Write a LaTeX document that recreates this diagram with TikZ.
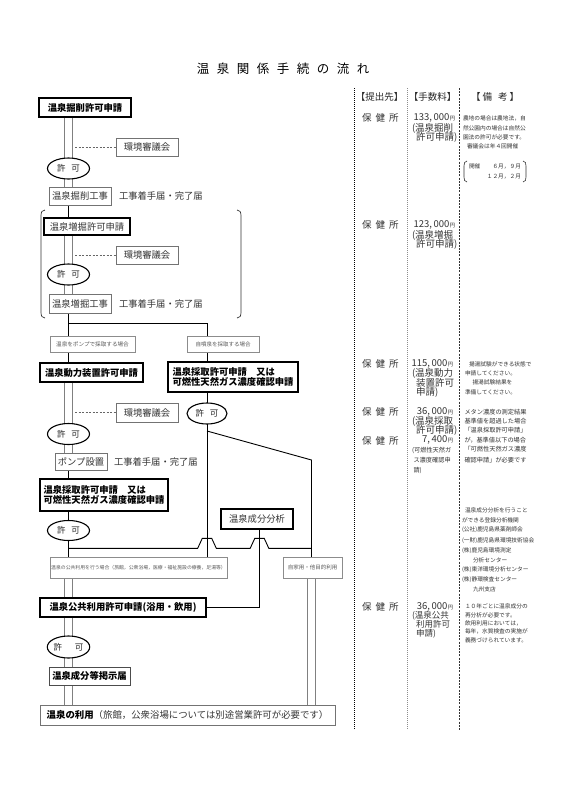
\documentclass[tikz,border=0pt]{standalone}
\usepackage{fontspec}
\setmainfont{Noto Sans CJK JP}
\usetikzlibrary{shapes.geometric,calc}
\pgfdeclarelayer{bg}
\pgfsetlayers{bg,main}
\newcommand{\jfs}[1]{\fontsize{#1}{#1}\selectfont}
\newcommand{\myen}{{\jfs{5.5}円}}
\newcommand{\kgap}{\hspace{4pt}}
\begin{document}
\begin{tikzpicture}[x=1pt,y=-1pt,
  every node/.style={inner sep=0pt, outer sep=0pt},
  gfont/.style={font=\jfs{9.3}\bfseries, text=black},
  mfont/.style={font=\jfs{9.3}, text=black!80},
  thickbox/.style={draw=black, line width=1.3pt, fill=white, minimum height=19pt},
  thinbox/.style={draw=black!55, line width=0.7pt, fill=white, minimum height=18pt},
  casebox/.style={draw=black!45, line width=0.6pt, fill=white, minimum height=16pt, text=black!65},
  permit/.style={ellipse, draw=black, line width=1.1pt, fill=white, minimum width=42pt, minimum height=21pt, font=\jfs{8.5}, text=black!85},
  dbl/.style={draw=black!50, line width=0.7pt, double=white, double distance=7.8pt},
  conn/.style={draw=black, line width=0.9pt},
  dashlink/.style={draw=black!60, line width=0.6pt, dash pattern=on 2pt off 1.5pt},
  head/.style={font=\jfs{9.5}, text=black!85},
  fee/.style={font=\jfs{9.5}, text=black!80},
  feemid/.style={font=\jfs{8.5}, text=black!80, anchor=west},
  feesm/.style={font=\jfs{6.2}, text=black!80, anchor=west},
  rem/.style={font=\jfs{5.7}, text=black!80, anchor=west},
  remb/.style={font=\jfs{6.2}, text=black!80, anchor=west}
]
\begin{pgfonlayer}{bg}
\fill[white] (0,0) rectangle (566,800);
\end{pgfonlayer}
\useasboundingbox (0,0) rectangle (566,800);

% spine coordinates
\coordinate (lx) at (68.5,0);
\coordinate (rx) at (207,0);
\coordinate (sx) at (259.5,0);
\coordinate (ux) at (311.5,0);
\coordinate (dx) at (75,0);
\coordinate (hy) at (0,548.3);
\coordinate (sy) at (0,323);
\coordinate (d0) at (207,431);
\coordinate (d1) at (311.5,460);

% title
\node[font=\jfs{12.5}] (title) at (283,68.3) {温\hspace{7.5pt}泉\hspace{7.5pt}関\hspace{7.5pt}係\hspace{7.5pt}手\hspace{7.5pt}続\hspace{7.5pt}の\hspace{7.5pt}流\hspace{7.5pt}れ};

% section 1
\node[thickbox, minimum width=92pt, gfont] (b1) at (85,107.5) {温泉掘削許可申請};
\node[thinbox, minimum width=62pt, mfont] (k1) at (147,147) {環境審議会};
\node[permit] (e1) at (68.5,168.5) {許\hspace{6pt}可};
\node[thinbox, minimum width=62pt, mfont] (w1) at (80,196) {温泉掘削工事};
\node[mfont, anchor=west] (n1) at (119,196) {工事着手届・完了届};

% section 2
\node[thickbox, minimum width=86pt, minimum height=17pt, mfont] (b2) at (87,226.5) {温泉増掘許可申請};
\node[thinbox, minimum width=62pt, mfont] (k2) at (147,255) {環境審議会};
\node[permit] (e2) at (68.5,274.5) {許\hspace{6pt}可};
\node[thinbox, minimum width=62pt, minimum height=19pt, mfont] (w2) at (80,303.5) {温泉増掘工事};
\node[mfont, anchor=west] (n2) at (119,304) {工事着手届・完了届};

% cases
\node[casebox, minimum width=85pt, font=\jfs{5.6}] (c1) at (92.5,344) {温泉をポンプで採取する場合};
\node[casebox, minimum width=72pt, font=\jfs{5.5}] (c2) at (223,344) {自噴泉を採取する場合};

% section 3
\node[thickbox, minimum width=103pt, gfont] (b3) at (91.5,372.5) {温泉動力装置許可申請};
\node[thickbox, minimum width=130pt, minimum height=30pt, align=left, font=\fontsize{9.3}{10.3}\selectfont\bfseries] (b4) at (233,377) {温泉採取許可申請　又は\\可燃性天然ガス濃度確認申請};
\node[thinbox, minimum width=62pt, minimum height=19pt, mfont] (k3) at (147,412.5) {環境審議会};
\node[permit, minimum width=40pt] (e4) at (207,413.5) {許\hspace{6pt}可};
\node[permit] (e3) at (68.5,434) {許\hspace{6pt}可};
\node[thinbox, minimum width=52pt, minimum height=17pt, mfont] (p) at (81,461.5) {ポンプ設置};
\node[mfont, anchor=west] (n3) at (114,461.5) {工事着手届・完了届};

% section 4
\node[thickbox, minimum width=128pt, minimum height=32pt, align=left, font=\fontsize{9.3}{10.3}\selectfont\bfseries] (b5) at (104,495) {温泉採取許可申請　又は\\可燃性天然ガス濃度確認申請};
\node[permit, minimum height=20pt] (e5) at (68.5,530.5) {許\hspace{6pt}可};
\node[draw=black, line width=1.1pt, fill=white, minimum width=72pt, minimum height=20pt, mfont] (s) at (257,519) {温泉成分分析};
\node[casebox, minimum width=177pt, minimum height=21pt, font=\jfs{4.85}] (c3) at (138.5,567.5) {温泉の公共利用を行う場合（旅館，公衆浴場，医療・福祉施設の療養，足湯等）};
\node[casebox, minimum width=59pt, minimum height=21pt, font=\jfs{5.5}] (c4) at (312.5,567.5) {自家用・他目的利用};

% section 5
\node[thickbox, minimum width=166pt, gfont] (b6) at (123,607.5) {温泉公共利用許可申請(浴用・飲用)};
\node[permit, minimum height=22pt] (e6) at (68.5,647) {許\hspace{13pt}可};
\node[draw=black!70, line width=0.8pt, fill=white, minimum width=81pt, minimum height=18pt, gfont] (b7) at (89.5,676) {温泉成分等掲示届};
\node[draw=black!55, line width=0.7pt, fill=white, minimum width=295pt, minimum height=20pt, font=\jfs{9.4}] (b8) at (187.5,715) {{\bfseries 温泉の利用}\textcolor{black!80}{（旅館，公衆浴場については別途営業許可が必要です）}};

% connectors
\begin{pgfonlayer}{bg}
\draw[dbl] (lx |- b1.south) -- (lx |- w1.north);
\draw[dashlink] (dx |- k1.west) -- (k1.west);
\draw[conn] (lx |- w1.south) -- (lx |- b2.north);
\draw[dbl] (lx |- b2.south) -- (lx |- w2.north);
\draw[dashlink] (dx |- k2.west) -- (k2.west);
\draw[conn] (lx |- w2.south) -- (lx |- sy) -- (rx |- sy) -- (rx |- c2.north);
\draw[conn] (lx |- sy) -- (lx |- c1.north);
\draw[conn] (lx |- c1.south) -- (lx |- b3.north);
\draw[conn] (rx |- c2.south) -- (rx |- b4.north);
\draw[dbl] (lx |- b3.south) -- (lx |- p.north);
\draw[dashlink] (dx |- k3.west) -- (k3.west);
\draw[conn] (rx |- b4.south) -- (e4.north);
\draw[conn] (e4.south) -- (rx |- c3.north);
\draw[conn] (d0) -- (d1) -- (d1 |- c4.north);
\draw[conn] (lx |- p.south) -- (lx |- b5.north);
\draw[conn] (lx |- b5.south) -- (e5.north);
\draw[conn] (e5.south) -- (lx |- c3.north);
\draw[conn] (lx |- hy) -- ($(rx |- hy)+(-9.3,0)$) -- ++(4.6,-10) -- ++(9.4,0) -- ++(4.6,10)
   -- ($(sx |- hy)+(-9.3,0)$) -- ++(4.6,-10) -- ++(9.4,0) -- ++(4.6,10) -- (ux |- hy);
\draw[conn] (sx |- s.south) -- (sx |- b6.east) -- (b6.east);
\draw[dbl] (lx |- c3.south) -- (lx |- b6.north);
\draw[dbl] (lx |- b6.south) -- (lx |- b7.north);
\draw[dbl] (lx |- b7.south) -- (lx |- b8.north);
\draw[dbl] (ux |- c4.south) -- (ux |- b8.north);
\end{pgfonlayer}

% bracket around section 2
\draw[black!80, line width=0.7pt] (45,210) .. controls (42,210) and (41,212) .. (41,216) -- (41,312) .. controls (41,316) and (42,318) .. (45,318);
\draw[black!80, line width=0.7pt] (237,210) .. controls (240,210) and (241,212) .. (241,216) -- (241,312) .. controls (241,316) and (240,318) .. (237,318);

% right columns
\draw[black, line width=0.9pt, dash pattern=on 1pt off 1pt] (354,88) -- (354,730);
\draw[black!45, line width=0.9pt, dash pattern=on 1pt off 1pt] (407.5,88) -- (407.5,730);
\draw[black!80, line width=0.8pt, dash pattern=on 2pt off 1.2pt] (459.5,88) -- (459.5,730);

\node[head] (h1) at (379.5,97) {【提出先】};
\node[head] (h2) at (432.5,97) {【手数料】};
\node[head] (h3) at (495,97) {【\hspace{2pt}備\hspace{6pt}考\hspace{2pt}】};

% submit-to
\node[fee, anchor=west] (g1) at (362,118.3) {保\kgap 健\kgap 所};
\node[fee, anchor=west] (g2) at (362,225) {保\kgap 健\kgap 所};
\node[fee, anchor=west] (g3) at (362,364) {保\kgap 健\kgap 所};
\node[fee, anchor=west] (g4) at (362,411.7) {保\kgap 健\kgap 所};
\node[fee, anchor=west] (g5) at (362,440.5) {保\kgap 健\kgap 所};
\node[fee, anchor=west] (g6) at (362,606.7) {保\kgap 健\kgap 所};

% fees
\node[fee, anchor=east] (f1) at (455,118.3) {133,\,000\myen};
\node[fee, anchor=west] (f1a) at (412,128.3) {(温泉掘削};
\node[fee, anchor=west] (f1b) at (416,137.9) {許可申請)};
\node[fee, anchor=east] (f2) at (455,225) {123,\,000\myen};
\node[fee, anchor=west] (f2a) at (412,235) {(温泉増掘};
\node[fee, anchor=west] (f2b) at (416,244.5) {許可申請)};
\node[fee, anchor=east] (f3) at (453,364) {115,\,000\myen};
\node[fee, anchor=west] (f3a) at (412,373.5) {(温泉動力};
\node[fee, anchor=west] (f3b) at (416,383) {装置許可};
\node[fee, anchor=west] (f3c) at (416,392.5) {申請)};
\node[fee, anchor=east] (f4) at (453,411.7) {36,\,000\myen};
\node[fee, anchor=west] (f4a) at (412,421.2) {(温泉採取};
\node[fee, anchor=west] (f4b) at (416,430.7) {許可申請)};
\node[fee, anchor=east] (f5) at (453,440.3) {7,\,400\myen};
\node[feesm] (f5a) at (412,450) {(可燃性天然ガ};
\node[feesm] (f5b) at (413.5,460) {ス濃度確認申};
\node[feesm] (f5c) at (413.5,470) {請)};
\node[fee, anchor=east] (f6) at (453,606.7) {36,\,000\myen};
\node[feemid] (f6a) at (412,615.8) {(温泉公共};
\node[feemid] (f6b) at (416,624.6) {利用許可};
\node[feemid] (f6c) at (416,633.4) {申請)};

% remarks
\node[rem] (r1a) at (463,118.3) {農地の場合は農地法，自};
\node[rem] (r1b) at (463,128.3) {然公園内の場合は自然公};
\node[rem] (r1c) at (463,137.7) {園法の許可が必要です。};
\node[rem] (r1d) at (467,146.7) {審議会は年４回開催};
\node[rem] (r1e) at (469,166.7) {開催};
\node[rem, anchor=east] (r1f) at (521,166.7) {６月，９月};
\node[rem, anchor=east] (r1g) at (521,176.7) {１２月，２月};
\draw[black!80, line width=0.6pt] (467,161) .. controls (464.5,161.5) and (464,163) .. (464,166) -- (464,177) .. controls (464,180) and (464.5,181.5) .. (467,182);
\draw[black!80, line width=0.6pt] (523,161) .. controls (525.5,161.5) and (526,163) .. (526,166) -- (526,177) .. controls (526,180) and (525.5,181.5) .. (523,182);

\node[rem] (r3a) at (469,364) {揚湯試験ができる状態で};
\node[rem] (r3b) at (465,373.3) {申請してください。};
\node[rem] (r3c) at (472.5,382.7) {揚湯試験結果を};
\node[rem] (r3d) at (465,392.7) {準備してください。};

\node[remb] (r4a) at (464.5,411.7) {メタン濃度の測定結果};
\node[remb] (r4b) at (464.5,420.7) {基準値を超過した場合};
\node[remb] (r4c) at (464.5,430) {「温泉採取許可申請」};
\node[remb] (r4d) at (464.5,440) {が，基準値以下の場合};
\node[remb] (r4e) at (464.5,449.3) {「可燃性天然ガス濃度};
\node[remb] (r4f) at (464.5,459.7) {確認申請」が必要です};

\node[rem] (r6a) at (465,510.7) {温泉成分分析を行うこと};
\node[rem] (r6b) at (462,520) {ができる登録分析機関};
\node[rem] (r6c) at (462,529.3) {(公社)鹿児島県薬剤師会};
\node[rem] (r6d) at (462,540.7) {(一財)鹿児島県環境技術協会};
\node[rem] (r6e) at (462,550.7) {(株)鹿児島環境測定};
\node[rem] (r6f) at (473,560) {分析センター};
\node[rem] (r6g) at (462,570) {(株)東洋環境分析センター};
\node[rem] (r6h) at (462,579.3) {(株)静環検査センター};
\node[rem] (r6i) at (473,589.3) {九州支店};

\node[rem] (r7a) at (465,606.7) {１０年ごとに温泉成分の};
\node[rem] (r7b) at (465,615) {再分析が必要です。};
\node[rem] (r7c) at (465,623.3) {飲用利用においては，};
\node[rem] (r7d) at (465,631.7) {毎年，水質検査の実施が};
\node[rem] (r7e) at (465,640) {義務づけられています。};
\end{tikzpicture}
\end{document}
